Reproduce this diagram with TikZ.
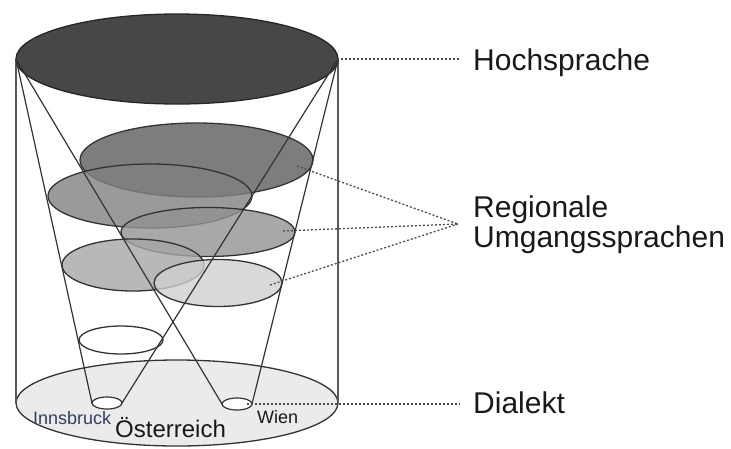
\documentclass[tikz,border=0pt]{standalone}
\usepackage{fontspec}
\setmainfont{Liberation Sans}
\begin{document}
\begin{tikzpicture}[x=1pt,y=-1pt,
  disc/.style={draw=black!80, line width=1.3pt, fill opacity=0.8},
  cyl/.style={draw=black!65, line width=1.2pt},
  cone/.style={draw=black!80, line width=1.2pt},
  leader/.style={draw=black!70, line width=1.3pt, dash pattern=on 2pt off 2pt},
  lbl/.style={anchor=base west, inner sep=0pt, text=black!90, font=\fontsize{30}{30}\selectfont},
  small/.style={anchor=base west, inner sep=0pt, font=\fontsize{18}{18}\selectfont}]
\useasboundingbox (0,0) rectangle (731,448);
% key points
\coordinate (TL) at (16,59);
\coordinate (TR) at (338,59);
\coordinate (BL) at (16,403);
\coordinate (BR) at (338,403);
\coordinate (IL) at (92,403);
\coordinate (IR) at (122,403);
\coordinate (WL) at (222,404);
\coordinate (WR) at (252,404);
% bottom disc
\draw[draw=black!80, line width=1.3pt, fill={rgb,255:red,235;green,235;blue,235}] (177,403) ellipse [x radius=161pt, y radius=43pt];
% cylinder walls
\draw[cyl] (TL) -- (BL);
\draw[cyl] (TR) -- (BR);
% regional discs
\draw[disc, fill={rgb,255:red,93;green,93;blue,93}] (196.5,160) ellipse [x radius=116.5pt, y radius=37pt];
\draw[disc, fill={rgb,255:red,129;green,129;blue,129}] (150,196) ellipse [x radius=102pt, y radius=32pt];
\draw[disc, fill={rgb,255:red,146;green,146;blue,146}] (208,232) ellipse [x radius=87pt, y radius=24.5pt];
\draw[disc, fill={rgb,255:red,166;green,166;blue,166}] (133,265) ellipse [x radius=71pt, y radius=26pt];
\draw[disc, fill={rgb,255:red,207;green,207;blue,207}] (218,283) ellipse [x radius=64pt, y radius=23.5pt];
\draw[draw=black!80, line width=1.3pt, fill=white] (121,340) ellipse [x radius=42pt, y radius=14pt];
% top disc
\draw[draw=black!85, line width=1.3pt, fill={rgb,255:red,71;green,71;blue,71}] (177,59) ellipse [x radius=161pt, y radius=45pt];
% cones
\draw[cone] (TL) -- (IL);
\draw[cone] (TL) -- (WL);
\draw[cone] (TR) -- (IR);
\draw[cone] (TR) -- (WR);
% holes
\draw[draw=black!80, line width=1.2pt, fill=white] (107,403) ellipse [x radius=15pt, y radius=6pt];
\draw[draw=black!80, line width=1.2pt, fill=white] (237,404) ellipse [x radius=15pt, y radius=6pt];
% labels
\node[lbl] (hoch) at (473,70) {Hochsprache};
\node[lbl] (reg1) at (473,217) {Regionale};
\node[lbl] (reg2) at (473,247) {Umgangssprachen};
\node[lbl] (dia) at (473,413) {Dialekt};
\node[small, text={rgb,255:red,50;green,62;blue,95}] (inn) at (33,424) {Innsbruck};
\node[small, text=black!90] (wien) at (257,423) {Wien};
\node[anchor=base west, inner sep=0pt, text=black!90, font=\fontsize{24}{24}\selectfont] (oe) at (115,437) {Österreich};
% leaders
\coordinate (h0) at (317,59);
\coordinate (h1) at (460,59);
\coordinate (r1) at (297,166);
\coordinate (r2) at (283,231);
\coordinate (r3) at (270,285);
\coordinate (rc) at (458,224);
\coordinate (d0) at (247,404);
\coordinate (d1) at (460,404);
\draw[leader] (h0) -- (h1);
\draw[leader] (r1) -- (rc);
\draw[leader] (r2) -- (rc);
\draw[leader] (r3) -- (rc);
\draw[leader] (d0) -- (d1);
\end{tikzpicture}
\end{document}
